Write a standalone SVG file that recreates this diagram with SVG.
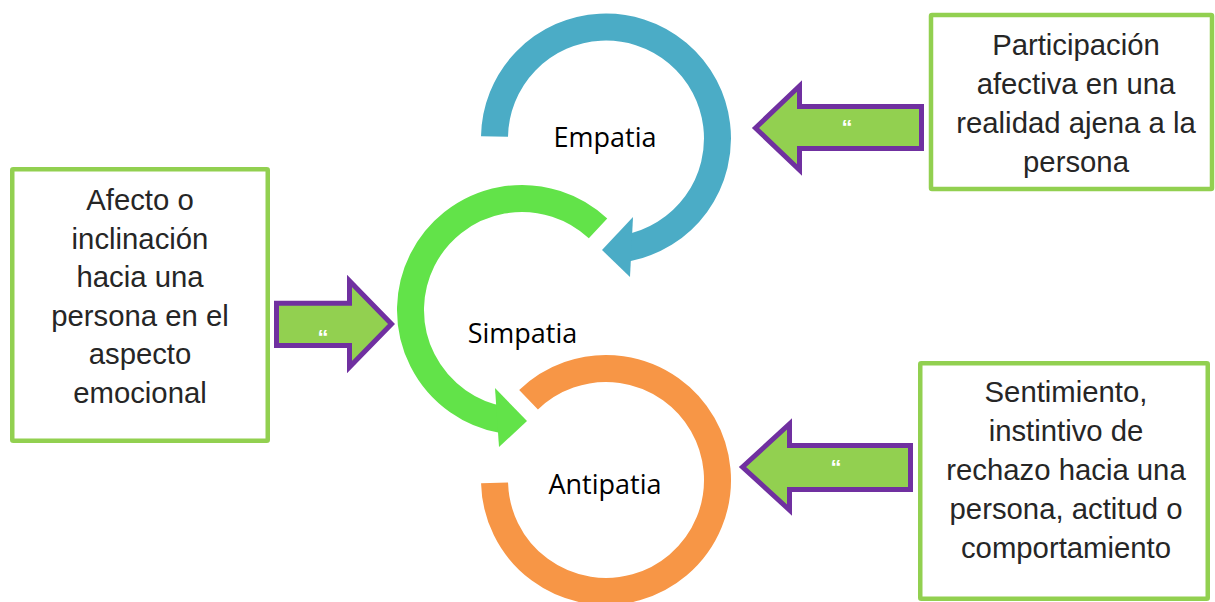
<svg xmlns="http://www.w3.org/2000/svg" width="1215" height="602" viewBox="0 0 1215 602">
<style>
.box{fill:#ffffff;stroke:#92D050;stroke-width:4.5}
.bt{font-family:"Liberation Sans",Arial,sans-serif;font-size:29.3px;fill:#262626;text-anchor:middle}
.lbl{font-family:"Open Sans","Noto Sans",sans-serif;font-size:27px;fill:#000000;text-anchor:middle}
.barrow{fill:#92D050;stroke:#7030A0;stroke-width:5;stroke-linejoin:miter}
.q{font-family:"Liberation Sans",Arial,sans-serif;font-size:22px;font-weight:bold;fill:#ffffff;text-anchor:middle}
.ring{fill:none;stroke-width:27}
</style>
<rect width="1215" height="602" fill="#ffffff"/>
<g id="connectors">
  <g id="arrow-empatia">
    <path class="barrow" d="M755.5,128 L799.5,86 L799.5,106.5 L921.5,106.5 L921.5,148.5 L799.5,148.5 L799.5,170 Z"/>
    <text class="q" x="847" y="135">“</text>
  </g>
  <g id="arrow-simpatia">
    <path class="barrow" d="M276.5,303.2 L349.5,303.2 L349.5,281 L391.5,324 L349.5,367 L349.5,345.5 L276.5,345.5 Z"/>
    <text class="q" x="323" y="345">“</text>
  </g>
  <g id="arrow-antipatia">
    <path class="barrow" d="M742.5,467 L789.5,424 L789.5,445.5 L910.5,445.5 L910.5,489.5 L789.5,489.5 L789.5,510 Z"/>
    <text class="q" x="836" y="475">“</text>
  </g>
</g>
<g id="node-antipatia">
  <path class="ring" stroke="#F79646" d="M528.55,399.79 A111.5,111.5 0 1 1 494.54,482.92"/>
  <text class="lbl" x="605" y="494">Antipatia</text>
</g>
<g id="node-simpatia">
  <path class="ring" stroke="#62E349" d="M598.04,228.45 A111.5,111.5 0 1 0 502.64,419.81"/>
  <polygon fill="#62E349" points="495,388 527,421 499,447"/>
  <text class="lbl" x="522.5" y="343">Simpatia</text>
</g>
<g id="node-empatia">
  <path class="ring" stroke="#4BACC6" d="M494.5,136.55 A111.5,111.5 0 1 1 627.3,247.95"/>
  <polygon fill="#4BACC6" points="633,217 602,250 630,277"/>
  <text class="lbl" x="605" y="147">Empatia</text>
</g>
<g id="box-empatia">
  <rect class="box" x="931" y="15" width="281" height="174" rx="1"/>
  <text class="bt" x="1076" y="55">Participación</text>
  <text class="bt" x="1076" y="94">afectiva en una</text>
  <text class="bt" x="1076" y="133">realidad ajena a la</text>
  <text class="bt" x="1076" y="171.5">persona</text>
</g>
<g id="box-simpatia">
  <rect class="box" x="12.25" y="169.25" width="255.5" height="271.5" rx="1"/>
  <text class="bt" x="140" y="210">Afecto o</text>
  <text class="bt" x="140" y="248.6">inclinación</text>
  <text class="bt" x="140" y="287.2">hacia una</text>
  <text class="bt" x="140" y="325.8">persona en el</text>
  <text class="bt" x="140" y="364.4">aspecto</text>
  <text class="bt" x="140" y="403">emocional</text>
</g>
<g id="box-antipatia">
  <rect class="box" x="920.25" y="363.25" width="287.5" height="235.5" rx="1"/>
  <text class="bt" x="1066" y="402">Sentimiento,</text>
  <text class="bt" x="1066" y="441">instintivo de</text>
  <text class="bt" x="1066" y="480">rechazo hacia una</text>
  <text class="bt" x="1066" y="519">persona, actitud o</text>
  <text class="bt" x="1066" y="558">comportamiento</text>
</g>
</svg>
